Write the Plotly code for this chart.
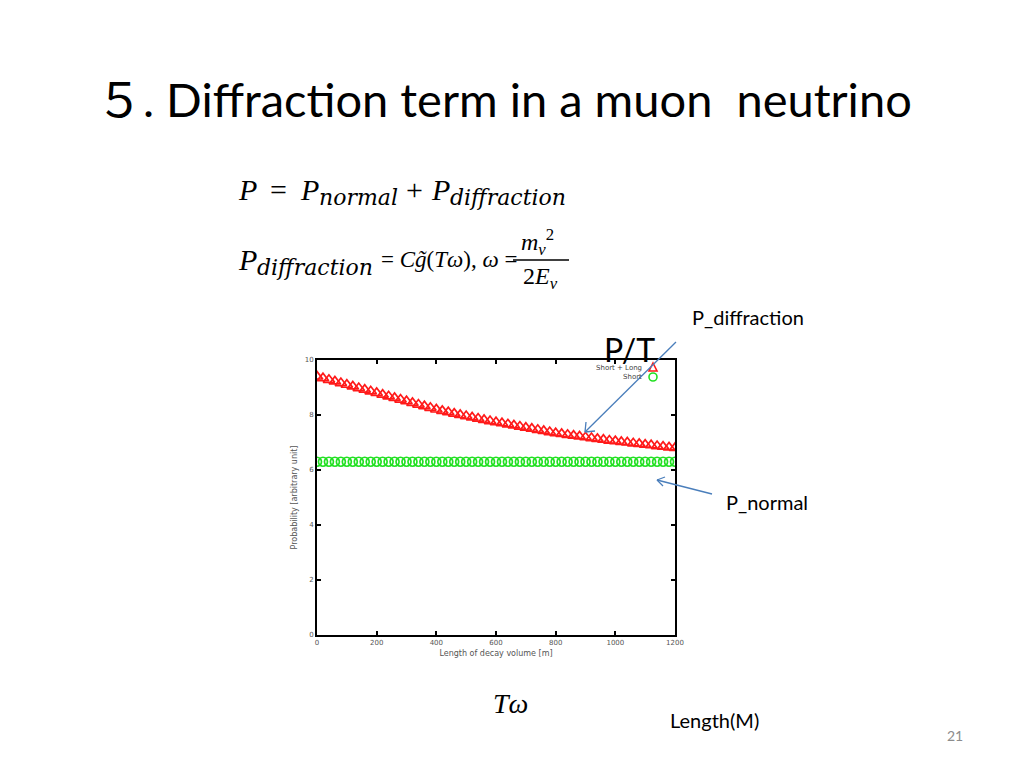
import plotly.graph_objects as go

# ---- data ----
length_m = list(range(0, 1201, 20))
short_long = [9.40, 9.34, 9.28, 9.22, 9.16, 9.10, 9.04, 8.98, 8.92, 8.86,
              8.80, 8.74, 8.68, 8.62, 8.56, 8.50, 8.44, 8.38, 8.32, 8.26,
              8.20, 8.15, 8.10, 8.05, 8.00, 7.96, 7.91, 7.87, 7.82, 7.78,
              7.74, 7.70, 7.66, 7.62, 7.58, 7.54, 7.50, 7.46, 7.42, 7.38,
              7.34, 7.31, 7.28, 7.25, 7.22, 7.19, 7.16, 7.13, 7.10, 7.07,
              7.05, 7.02, 7.00, 6.97, 6.95, 6.92, 6.90, 6.87, 6.85, 6.82,
              6.80]
short_only = [6.30] * 61
x_ticks = [0, 200, 400, 600, 800, 1000, 1200]
y_ticks = [0, 2, 4, 6, 8, 10]

# ---- layout helpers (pixel -> paper) ----
L, R, T, B = 317, 675, 360, 635
def px(x):
    return (x - L) / (R - L)
def py(y):
    return (B - y) / (B - T)

fig = go.Figure()
fig.add_trace(go.Scatter(
    x=length_m, y=short_long, mode="markers", name="Short + Long",
    marker=dict(symbol="triangle-up-open", size=10, color="#ff1a1a",
                line=dict(width=1.7, color="#ff1a1a")),
    showlegend=False))
fig.add_trace(go.Scatter(
    x=length_m, y=short_only, mode="markers", name="Short",
    marker=dict(symbol="circle-open", size=9, color="#22e022",
                line=dict(width=1.7, color="#22e022")),
    showlegend=False))

axis_common = dict(showline=True, linecolor="black", linewidth=2, mirror="ticks",
                   ticks="inside", ticklen=4, tickwidth=1.5, tickcolor="black",
                   showgrid=False, zeroline=False,
                   tickfont=dict(family="DejaVu Sans", size=7, color="#555555"))

fig.update_layout(
    width=1024, height=768,
    margin=dict(l=L, r=1024 - R, t=T, b=768 - B),
    paper_bgcolor="white", plot_bgcolor="white",
    xaxis=dict(range=[0, 1200], tickvals=x_ticks,
               title=dict(text="Length of decay volume [m]", standoff=4,
                          font=dict(family="DejaVu Sans", size=8, color="#555555")),
               **axis_common),
    yaxis=dict(range=[0, 10], tickvals=y_ticks,
               title=dict(text="Probability [arbitrary unit]", standoff=6,
                          font=dict(family="DejaVu Sans", size=8, color="#555555")),
               **axis_common),
)

ann = []
def text(x, y, s, size, family="Lato", color="black", xanchor="left", yanchor="middle"):
    ann.append(dict(x=px(x), y=py(y), xref="paper", yref="paper", text=s,
                    showarrow=False, xanchor=xanchor, yanchor=yanchor,
                    font=dict(family=family, size=size, color=color)))

# title
text(94, 99, "５. Diffraction term in a muon&nbsp;&nbsp;neutrino", 47,
     family="Lato, Noto Sans CJK JP")

# formulas (pieces placed individually)
serif = "Liberation Serif"
subf = "DejaVu Serif"
# line 1
text(236, 189, "<i>P</i>", 30, family=serif)
text(268, 189, "=", 30, family=serif)
text(298, 189, "<i>P</i>", 30, family=serif)
text(317, 197, "<i>normal</i>", 22, family=subf)
text(404, 189, "+", 30, family=serif)
text(429, 189, "<i>P</i>", 30, family=serif)
text(448, 197, "<i>diffraction</i>", 22, family=subf)
# line 2
text(236, 259, "<i>P</i>", 30, family=serif)
text(255, 267, "<i>diffraction</i>", 22, family=subf)
text(379, 259, "= <i>C</i><i>g̃</i>(<i>Tω</i>), <i>ω</i> =", 23, family=serif)
text(537, 242, "<i>m</i><sub><i>ν</i></sub><sup>2</sup>", 24, family=serif, xanchor="center")
text(540, 278, "2<i>E</i><sub><i>ν</i></sub>", 24, family=serif, xanchor="center")
text(510, 703, "<i>Tω</i>", 28, family=serif, xanchor="center")

# side labels
text(690, 317, "P_diffraction", 20)
text(602, 349, "P/T", 32)
text(724, 502, "P_normal", 20)
text(668, 720, "Length(M)", 20)
text(945, 735, "21", 14, color="#8c8c8c")

# legend labels
text(644, 368, "Short + Long", 7, family="DejaVu Sans", color="#444444", xanchor="right")
text(644, 377, "Short", 7, family="DejaVu Sans", color="#444444", xanchor="right")

shapes = []
# fraction bar
shapes.append(dict(type="line", xref="paper", yref="paper",
                   x0=px(513), x1=px(569), y0=py(260), y1=py(260),
                   line=dict(color="black", width=1.3)))
# legend symbols
tri = f"M {px(649)},{py(371)} L {px(657)},{py(371)} L {px(653)},{py(363)} Z"
shapes.append(dict(type="path", xref="paper", yref="paper", path=tri,
                   line=dict(color="#ff1a1a", width=1.6)))
shapes.append(dict(type="circle", xref="paper", yref="paper",
                   x0=px(649), x1=px(657), y0=py(381), y1=py(373),
                   line=dict(color="#22e022", width=1.6)))

# arrows (blue)
blue = "#4a7ebb"
def arrow(x0, y0, x1, y1, hx1, hy1, hx2, hy2):
    shapes.append(dict(type="line", xref="paper", yref="paper",
                       x0=px(x0), y0=py(y0), x1=px(x1), y1=py(y1),
                       line=dict(color=blue, width=1.3)))
    for hx, hy in ((hx1, hy1), (hx2, hy2)):
        shapes.append(dict(type="line", xref="paper", yref="paper",
                           x0=px(x1), y0=py(y1), x1=px(hx), y1=py(hy),
                           line=dict(color=blue, width=1.3)))

arrow(676, 342, 585, 432, 586, 422, 595, 431)
arrow(712, 494, 657, 480, 665, 477, 663, 486)

fig.update_layout(annotations=ann, shapes=shapes)
fig.write_html("out.html", config={"displayModeBar": False},
               post_script="document.body.style.margin='0';document.body.style.overflow='hidden';")
